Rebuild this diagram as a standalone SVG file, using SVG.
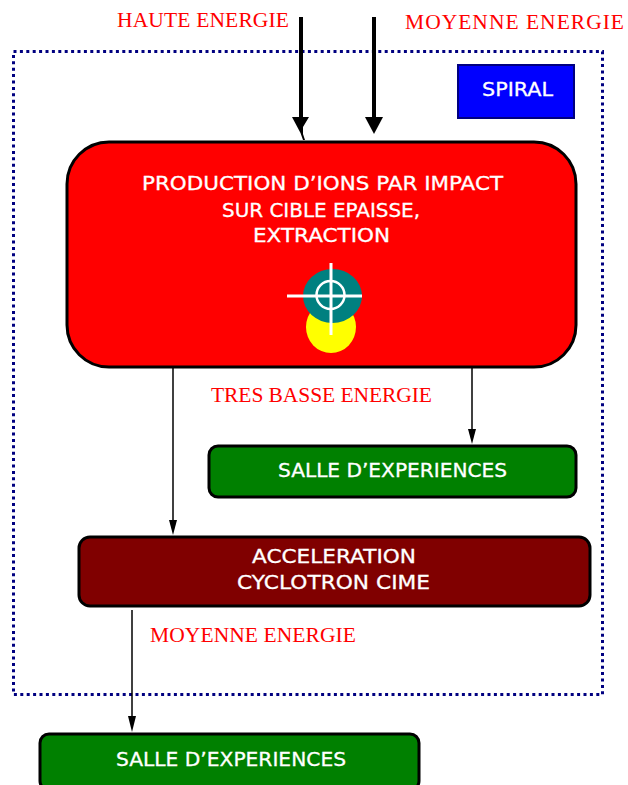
<svg xmlns="http://www.w3.org/2000/svg" width="628" height="785" viewBox="0 0 628 785">
<style>
.lab{font-family:"Liberation Serif",serif;font-size:21.500px;fill:#ff0000}
.w{font-family:"DejaVu Sans","Liberation Sans",sans-serif;font-size:19px;fill:#fff;stroke:#fff;stroke-width:.3}
.box{stroke:#000;stroke-width:3}
.thick{stroke:#000;stroke-width:4;fill:none}
.thin{stroke:#000;stroke-width:1.500;fill:none}
</style>
<rect width="628" height="785" fill="#fff"/>
<rect id="frame" x="13.500" y="51.500" width="589" height="643" fill="none" stroke="#000080" stroke-width="3" stroke-dasharray="3 3.400"/>
<g id="connectors">
<path class="thick" d="M301 17V118"/>
<path d="M292 117H309L303 127V134L305 140H303L300.500 133Z" fill="#000"/>
<path class="thick" d="M374 17V118"/>
<path d="M365 117H383L374 134Z" fill="#000"/>
<path class="thin" d="M173 367V522"/>
<path d="M169 520H177L173 535Z" fill="#000"/>
<path class="thin" d="M472 367V431"/>
<path d="M468 429H476L472 444Z" fill="#000"/>
<path class="thin" d="M132 610V717"/>
<path d="M128 716H136L132 732Z" fill="#000"/>
</g>
<g id="label-haute"><text class="lab" x="117" y="27" textLength="172">HAUTE ENERGIE</text></g>
<g id="label-moyenne-top"><text class="lab" x="405" y="29" textLength="219">MOYENNE ENERGIE</text></g>
<g id="spiral">
<rect x="458" y="65" width="116" height="53" fill="#0000ff" stroke="#000080" stroke-width="2"/>
<text class="w" x="482" y="96" textLength="71" lengthAdjust="spacingAndGlyphs">SPIRAL</text>
</g>
<g id="production">
<rect class="box" x="67" y="142" width="509" height="225" rx="42" fill="#ff0000"/>
<text class="w" x="142" y="190" textLength="361" lengthAdjust="spacingAndGlyphs">PRODUCTION D’IONS PAR IMPACT</text>
<text class="w" x="222" y="217" textLength="198" lengthAdjust="spacingAndGlyphs">SUR CIBLE EPAISSE,</text>
<text class="w" x="253" y="242" textLength="137" lengthAdjust="spacingAndGlyphs">EXTRACTION</text>
<ellipse cx="331" cy="327" rx="25" ry="26" fill="#ffff00"/>
<ellipse cx="332.500" cy="296" rx="29.500" ry="27" fill="#008080"/>
<circle cx="330.500" cy="295" r="14" fill="none" stroke="#fff" stroke-width="2.500"/>
<path d="M287 296H362M331 263V335" stroke="#fff" stroke-width="3" fill="none"/>
</g>
<g id="label-tres-basse"><text class="lab" x="211" y="402" textLength="221">TRES BASSE ENERGIE</text></g>
<g id="salle-1">
<rect class="box" x="209" y="446" width="367" height="51" rx="9" fill="#008000"/>
<text class="w" x="278" y="477" textLength="229" lengthAdjust="spacingAndGlyphs">SALLE D’EXPERIENCES</text>
</g>
<g id="acceleration">
<rect class="box" x="79" y="537" width="511" height="69" rx="11" fill="#800000"/>
<text class="w" x="252" y="563" textLength="164" lengthAdjust="spacingAndGlyphs">ACCELERATION</text>
<text class="w" x="237" y="589" textLength="193" lengthAdjust="spacingAndGlyphs">CYCLOTRON CIME</text>
</g>
<g id="label-moyenne-bas"><text class="lab" x="150" y="642" textLength="206">MOYENNE ENERGIE</text></g>
<g id="salle-2">
<rect class="box" x="40" y="734" width="379" height="56" rx="9" fill="#008000"/>
<text class="w" x="116" y="766" textLength="230" lengthAdjust="spacingAndGlyphs">SALLE D’EXPERIENCES</text>
</g>
</svg>
